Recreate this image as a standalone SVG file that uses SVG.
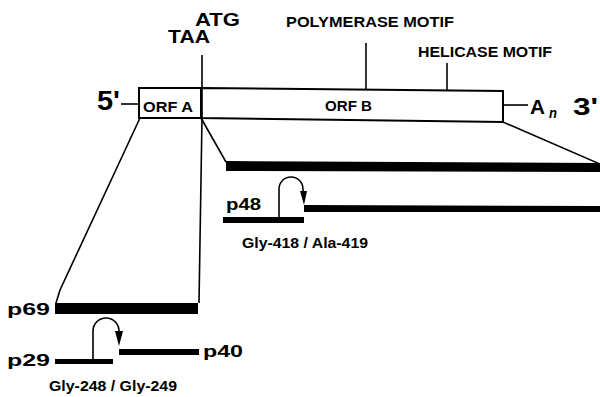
<svg xmlns="http://www.w3.org/2000/svg" width="600" height="397" viewBox="0 0 600 397">
<style>
text{font-family:"Liberation Sans",Arial,sans-serif;font-weight:bold;fill:#000}
.ln{stroke:#000;stroke-width:1.6;fill:none}
.box{stroke:#000;stroke-width:2;fill:#fff}
.bar{fill:#000}
</style>
<rect width="600" height="397" fill="#fff"/>
<g id="connectors">
<line class="ln" x1="121" y1="104" x2="139" y2="104"/>
<line class="ln" x1="503" y1="105" x2="528" y2="105"/>
<line class="ln" x1="366" y1="43" x2="366" y2="90"/>
<line class="ln" x1="447" y1="63" x2="447" y2="91"/>
<polyline class="ln" points="140,118 60,290 56,303"/>
<line class="ln" x1="201" y1="118" x2="226" y2="162"/>
<line class="ln" x1="503" y1="122" x2="600" y2="164"/>
<path class="ln" d="M279,218 V189 A12,12 0 0 1 303,189 V194"/>
<polygon class="bar" points="300,191 307,191 304,205"/>
<path class="ln" d="M93,360 V331 A13,13 0 0 1 119,331 V334"/>
<polygon class="bar" points="115,331 123,331 119,346"/>
</g>
<g id="orfA">
<rect class="box" x="139" y="88" width="62" height="30"/>
<text x="143" y="112" font-size="14" textLength="50" lengthAdjust="spacingAndGlyphs">ORF A</text>
</g>
<g id="orfB">
<path class="box" d="M201,88 L503,91 L503,122 L201,118 Z"/>
<text x="325" y="111" font-size="14" textLength="47" lengthAdjust="spacingAndGlyphs">ORF B</text>
</g>
<g id="atg-line">
<polyline class="ln" points="202,55 202,118 199,303"/>
</g>
<g id="labels">
<text x="195" y="26" font-size="19" textLength="45" lengthAdjust="spacingAndGlyphs">ATG</text>
<text x="168" y="43" font-size="19" textLength="42" lengthAdjust="spacingAndGlyphs">TAA</text>
<text x="286" y="27" font-size="14" textLength="168" lengthAdjust="spacingAndGlyphs">POLYMERASE MOTIF</text>
<text x="418" y="57" font-size="14" textLength="134" lengthAdjust="spacingAndGlyphs">HELICASE MOTIF</text>
<text x="97" y="110" font-size="28" textLength="23" lengthAdjust="spacingAndGlyphs">5'</text>
<text x="530" y="114" font-size="21" textLength="15" lengthAdjust="spacingAndGlyphs">A</text>
<text x="549" y="118" font-size="14" font-style="italic" textLength="8" lengthAdjust="spacingAndGlyphs">n</text>
<text x="573" y="115" font-size="24" textLength="25" lengthAdjust="spacingAndGlyphs">3'</text>
</g>
<g id="p48-precursor">
<polygon class="bar" points="226,161 600,163 600,172 226,171"/>
</g>
<g id="p48">
<rect class="bar" x="223" y="217" width="81" height="6"/>
<polygon class="bar" points="304,205 600,206 600,212 304,212"/>
<text x="226" y="210" font-size="16" textLength="35" lengthAdjust="spacingAndGlyphs">p48</text>
<text x="242" y="248" font-size="14" textLength="126" lengthAdjust="spacingAndGlyphs">Gly-418 / Ala-419</text>
</g>
<g id="p69">
<rect class="bar" x="55" y="303" width="143" height="11"/>
<text x="7" y="315" font-size="16" textLength="43" lengthAdjust="spacingAndGlyphs">p69</text>
</g>
<g id="p29">
<rect class="bar" x="55" y="359" width="58" height="5"/>
<text x="7" y="366" font-size="16" textLength="43" lengthAdjust="spacingAndGlyphs">p29</text>
</g>
<g id="p40">
<rect class="bar" x="119" y="349" width="80" height="6"/>
<text x="203" y="357" font-size="16" textLength="40" lengthAdjust="spacingAndGlyphs">p40</text>
<text x="49" y="391" font-size="14" textLength="128" lengthAdjust="spacingAndGlyphs">Gly-248 / Gly-249</text>
</g>
</svg>
